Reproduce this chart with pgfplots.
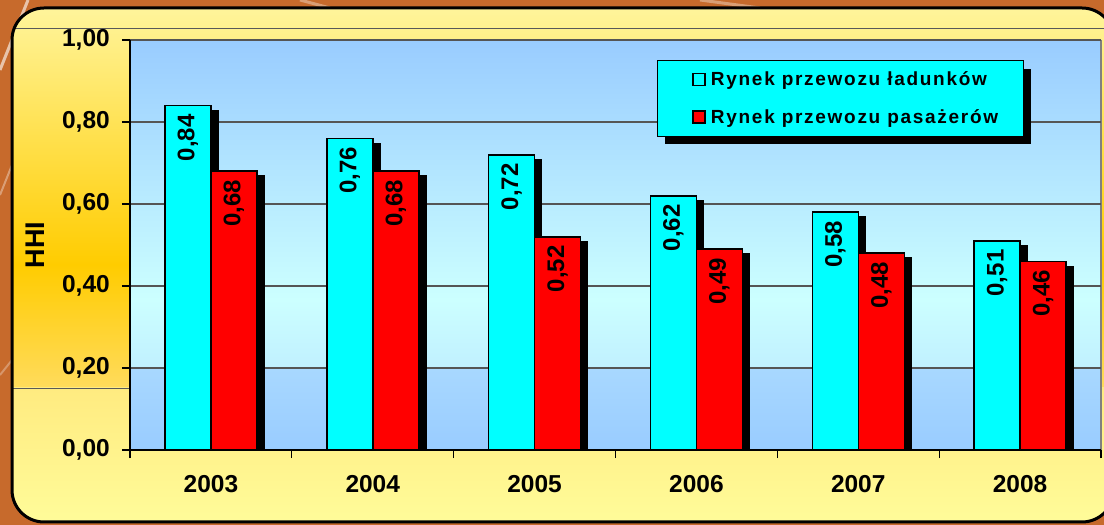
\documentclass[border=0pt]{standalone}
\usepackage{pgfplots}
\pgfplotsset{compat=1.18}
\usetikzlibrary{shadows}
\usepackage{fontspec}
\setmainfont{Liberation Sans}
\newfontfamily\legfont{Liberation Sans}[LetterSpace=9]
\makeatletter
\tikzset{no preaction/.code={\let\tikz@preactions\pgfutil@empty}}
\makeatother
\definecolor{bgbrown}{HTML}{C76A2C}
\definecolor{frA}{HTML}{FFF59D}
\definecolor{frB}{HTML}{FFCC00}
\definecolor{frC}{HTML}{FFDB5C}
\definecolor{frD}{HTML}{FFEB80}
\definecolor{frE}{HTML}{FFFC9A}
\definecolor{paA}{HTML}{99CCFF}
\definecolor{paB}{HTML}{CCFFFF}
\definecolor{paC}{HTML}{C0F0FF}
\definecolor{paD}{HTML}{A8D8FF}
\definecolor{gridc}{HTML}{555555}
\definecolor{barcyan}{HTML}{00FFFF}
\definecolor{barred}{HTML}{FF0000}
\pgfplotsset{/pgf/number format/assume math mode=true}
\begin{document}
\begin{tikzpicture}[x=1pt,y=1pt]
\useasboundingbox (0,0) rectangle (1104,525);
\fill[bgbrown] (0,0) rectangle (1104,525);
\draw[white, opacity=0.6, line width=3pt] (0,455) -- (28,525);
\draw[white, opacity=0.35, line width=2pt] (0,330) -- (12,360);
\draw[white, opacity=0.3, line width=2pt] (0,150) -- (12,165);
\draw[white, opacity=0.35, line width=3pt] (300,525) -- (330,517);
\draw[white, opacity=0.35, line width=3pt] (700,525) -- (760,517);
\begin{scope}
\clip[rounded corners=32pt] (12,3) rectangle (1114,517);
\shade[top color=frA, bottom color=frB] (0,260) rectangle (1120,520);
\shade[top color=frB, bottom color=frC] (0,137) rectangle (1120,260.5);
\shade[top color=frD, bottom color=frE] (0,0) rectangle (1120,137);
\draw[gray!70!black, line width=0.8pt] (0,497) -- (1120,497);
\draw[gray!70!black, line width=0.8pt] (0,137) -- (130,137);
\end{scope}
\draw[black, line width=3pt, rounded corners=32pt] (12,3) rectangle (1114,517);
% plot area background
\shade[top color=paA, bottom color=paB] (130,225) rectangle (1101,485);
\shade[top color=paB, bottom color=paC] (130,157) rectangle (1101,225.5);
\shade[top color=paD, bottom color=paA] (130,75) rectangle (1101,157);
\draw[gray, line width=1.2pt] (1101,75) -- (1101,485);
\begin{axis}[
  at={(130pt,75pt)}, anchor=south west,
  scale only axis, width=971pt, height=410pt,
  xmin=-0.5, xmax=5.5, ymin=0, ymax=1,
  ybar, bar width=46pt,
  axis line style={draw=none},
  xtick={0,1,2,3,4,5},
  xticklabels={2003,2004,2005,2006,2007,2008},
  minor xtick={-0.5,0.5,1.5,2.5,3.5,4.5,5.5},
  major x tick style={draw=none},
  minor x tick style={black, line width=1.3pt},
  ytick={0,0.2,0.4,0.6,0.8,1},
  major y tick style={black, line width=1.3pt},
  tick align=outside, major tick length=8pt, minor tick length=8pt,
  xtick pos=left, ytick pos=left,
  ymajorgrids, major grid style={gridc, line width=1.2pt},
  yticklabel={\pgfmathprintnumber[fixed,fixed zerofill,precision=2,use comma]{\tick}},
  yticklabel style={anchor=east, inner sep=0pt, xshift=-12pt, font=\bfseries\fontsize{24.5}{28}\selectfont},
  xticklabel style={anchor=north, inner sep=0pt, yshift=-17pt, font=\bfseries\fontsize{24.5}{28}\selectfont},
  ylabel={HHI},
  every axis y label/.style={at={(axis description cs:-0.0973,0.5)}, rotate=90, anchor=center, font=\bfseries\fontsize{27}{30}\selectfont},
  clip mode=individual,
  nodes near coords={\pgfmathprintnumber[fixed,fixed zerofill,precision=2,use comma]{\pgfplotspointmeta}},
  every node near coord/.append style={rotate=90, anchor=east, inner xsep=8pt, inner ysep=0pt, font=\bfseries\fontsize{24}{28}\selectfont, black},
  legend cell align=left,
  legend style={at={(axis description cs:0.5427,0.9512)}, anchor=north west,
    fill=barcyan, draw=black, line width=1pt,
    inner xsep=23pt, inner ysep=9.5pt, row sep=18pt,
    font={\fontsize{19}{22}\selectfont\legfont\bfseries},
    /tikz/every odd column/.append style={column sep=3pt},
    drop shadow={shadow xshift=7.5pt, shadow yshift=-8pt, opacity=1, fill=black}},
]
\addplot[fill=barcyan, draw=black, line width=1.5pt, bar shift=-23pt,
  drop shadow={shadow xshift=7pt, shadow yshift=-5pt, opacity=1, fill=black},
  legend image code/.code={\path (-12pt,0pt); \draw[no preaction, fill=barcyan, draw=black, line width=1.5pt] (0pt,-6pt) rectangle (12pt,6pt);}]
  coordinates {(0,0.84) (1,0.76) (2,0.72) (3,0.62) (4,0.58) (5,0.51)};
\addlegendentry{Rynek przewozu ładunków}
\addplot[fill=barred, draw=black, line width=1.5pt, bar shift=23pt,
  drop shadow={shadow xshift=7pt, shadow yshift=-5pt, opacity=1, fill=black},
  legend image code/.code={\path (-12pt,0pt); \draw[no preaction, fill=barred, draw=black, line width=1.5pt] (0pt,-6pt) rectangle (12pt,6pt);}]
  coordinates {(0,0.68) (1,0.68) (2,0.52) (3,0.49) (4,0.48) (5,0.46)};
\addlegendentry{Rynek przewozu pasażerów}
\end{axis}
\draw[black, line width=2pt] (130,485) -- (130,75) -- (1101,75);
\end{tikzpicture}
\end{document}
